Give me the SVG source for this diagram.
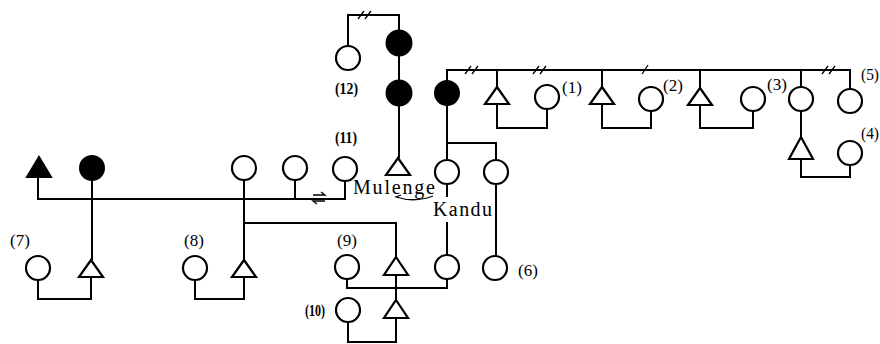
<svg xmlns="http://www.w3.org/2000/svg" width="880" height="344" viewBox="0 0 880 344">
<style>
.w{fill:none;stroke:#000;stroke-width:2}
.t{fill:none;stroke:#000;stroke-width:1.3}
.c{fill:#fff;stroke:#000;stroke-width:2.2}
.b{fill:#000;stroke:#000;stroke-width:2}
.tr{fill:#fff;stroke:#000;stroke-width:2.2;stroke-linejoin:miter}
.lb{font-family:"Liberation Serif",serif;font-size:17px;fill:#000;text-anchor:middle}
.ls{font-family:"Liberation Serif",serif;font-size:17px;fill:#000;font-weight:bold}
.nm{font-family:"Liberation Serif",serif;font-size:20px;fill:#000}
</style>
<rect width="880" height="344" fill="#fff"/>
<g id="connectors">
<path class="w" d="M38,177 V199 H345 V181"/>
<path class="w" d="M92,180 V260"/>
<path class="w" d="M91,277 V299 H38 V280"/>
<path class="w" d="M244,180 V260"/>
<path class="w" d="M244,277 V299 H195 V280"/>
<path class="w" d="M295,180 V199"/>
<path class="w" d="M244,223 H396 V257"/>
<path class="w" d="M396,275 V300"/>
<path class="w" d="M396,318 V342 H348 V322"/>
<path class="w" d="M347,279 V288 H447 V279"/>
<path class="w" d="M348,46 V15 H399 V30"/>
<path class="w" d="M399,56 V80"/>
<path class="w" d="M399,106 V158"/>
<path class="w" d="M447,81 V70 H850 V89"/>
<path class="w" d="M447,105 V160"/>
<path class="w" d="M447,143 H496 V160"/>
<path class="w" d="M447,184 V197"/>
<path class="w" d="M447,222 V255"/>
<path class="w" d="M496,184 V256"/>
<path class="w" d="M497,70 V87"/>
<path class="w" d="M497,104 V128 H547 V109"/>
<path class="w" d="M602,70 V87"/>
<path class="w" d="M602,104 V128 H651 V111"/>
<path class="w" d="M700,70 V88"/>
<path class="w" d="M700,105 V128 H753 V111"/>
<path class="w" d="M801,70 V87"/>
<path class="w" d="M801,111 V137"/>
<path class="w" d="M801,159 V177 H850 V165"/>
<path class="t" d="M358,19 L364,11 M365,19 L371,11"/>
<path class="t" d="M465,74 L471,66 M472,74 L478,66"/>
<path class="t" d="M533,74 L539,66 M540,74 L546,66"/>
<path class="t" d="M642,74 L648,65"/>
<path class="t" d="M822,74 L828,66 M829,74 L835,66"/>
<path class="t" d="M313,195 H325 L321,192 M325,201 H313 L317,204"/>
<path class="t" d="M433,196 Q415,203 396,197 L401,195"/>
</g>
<g id="n-arrow"><path class="b" d="M39,157 L51,177 L27,177 Z"/></g>
<g id="n-black1"><circle class="b" cx="92" cy="168" r="12"/></g>
<g id="n-7c"><circle class="c" cx="38" cy="268" r="12"/></g>
<g id="n-7t"><path class="tr" d="M91,260 L103,277 L79,277 Z"/></g>
<g id="n-8c"><circle class="c" cx="195" cy="268" r="12"/></g>
<g id="n-8t"><path class="tr" d="M244,260 L256,277 L232,277 Z"/></g>
<g id="n-a"><circle class="c" cx="244" cy="168" r="12"/></g>
<g id="n-b"><circle class="c" cx="295" cy="168" r="12"/></g>
<g id="n-11"><circle class="c" cx="345" cy="169" r="12"/></g>
<g id="n-12"><circle class="c" cx="348" cy="58" r="12"/></g>
<g id="n-black2"><circle class="b" cx="399" cy="43" r="12.5"/></g>
<g id="n-black3"><circle class="b" cx="399" cy="93" r="12.5"/></g>
<g id="n-mt"><path class="tr" d="M398,158 L410,175 L386,175 Z"/></g>
<g id="n-black4"><circle class="b" cx="447" cy="93" r="12"/></g>
<g id="n-k1"><circle class="c" cx="447" cy="172" r="12"/></g>
<g id="n-k2"><circle class="c" cx="496" cy="172" r="12"/></g>
<g id="n-k3"><circle class="c" cx="447" cy="267" r="12"/></g>
<g id="n-6"><circle class="c" cx="495" cy="268" r="12"/></g>
<g id="n-9c"><circle class="c" cx="347" cy="267" r="12"/></g>
<g id="n-9t"><path class="tr" d="M396,257 L408,275 L384,275 Z"/></g>
<g id="n-10c"><circle class="c" cx="348" cy="310" r="12"/></g>
<g id="n-10t"><path class="tr" d="M396,300 L408,318 L384,318 Z"/></g>
<g id="n-1t"><path class="tr" d="M497,87 L509,104 L485,104 Z"/></g>
<g id="n-1c"><circle class="c" cx="547" cy="97" r="12"/></g>
<g id="n-2t"><path class="tr" d="M602,87 L614,104 L590,104 Z"/></g>
<g id="n-2c"><circle class="c" cx="651" cy="99" r="12"/></g>
<g id="n-3t"><path class="tr" d="M700,88 L712,105 L688,105 Z"/></g>
<g id="n-3c"><circle class="c" cx="753" cy="99" r="12"/></g>
<g id="n-3b"><circle class="c" cx="801" cy="99" r="12"/></g>
<g id="n-4t"><path class="tr" d="M801,137 L813,159 L789,159 Z"/></g>
<g id="n-4c"><circle class="c" cx="850" cy="153" r="12"/></g>
<g id="n-5c"><circle class="c" cx="850" cy="101" r="12"/></g>
<g id="labels">
<text class="lb" x="20" y="246">(7)</text>
<text class="lb" x="194" y="246">(8)</text>
<text class="lb" x="347" y="246">(9)</text>
<text class="ls" x="305" y="316" textLength="20" lengthAdjust="spacingAndGlyphs">(10)</text>
<text class="ls" x="335" y="143" textLength="22" lengthAdjust="spacingAndGlyphs">(11)</text>
<text class="ls" x="335" y="94" textLength="23" lengthAdjust="spacingAndGlyphs">(12)</text>
<text class="lb" x="572" y="93">(1)</text>
<text class="lb" x="673" y="91">(2)</text>
<text class="lb" x="777" y="90">(3)</text>
<text class="lb" x="870" y="139" textLength="18" lengthAdjust="spacingAndGlyphs">(4)</text>
<text class="lb" x="870" y="80" textLength="18" lengthAdjust="spacingAndGlyphs">(5)</text>
<text class="lb" x="528" y="276">(6)</text>
<text class="nm" x="353" y="194" textLength="82" lengthAdjust="spacing">Mulenge</text>
<text class="nm" x="433" y="216" textLength="59" lengthAdjust="spacing">Kandu</text>
</g>
</svg>
